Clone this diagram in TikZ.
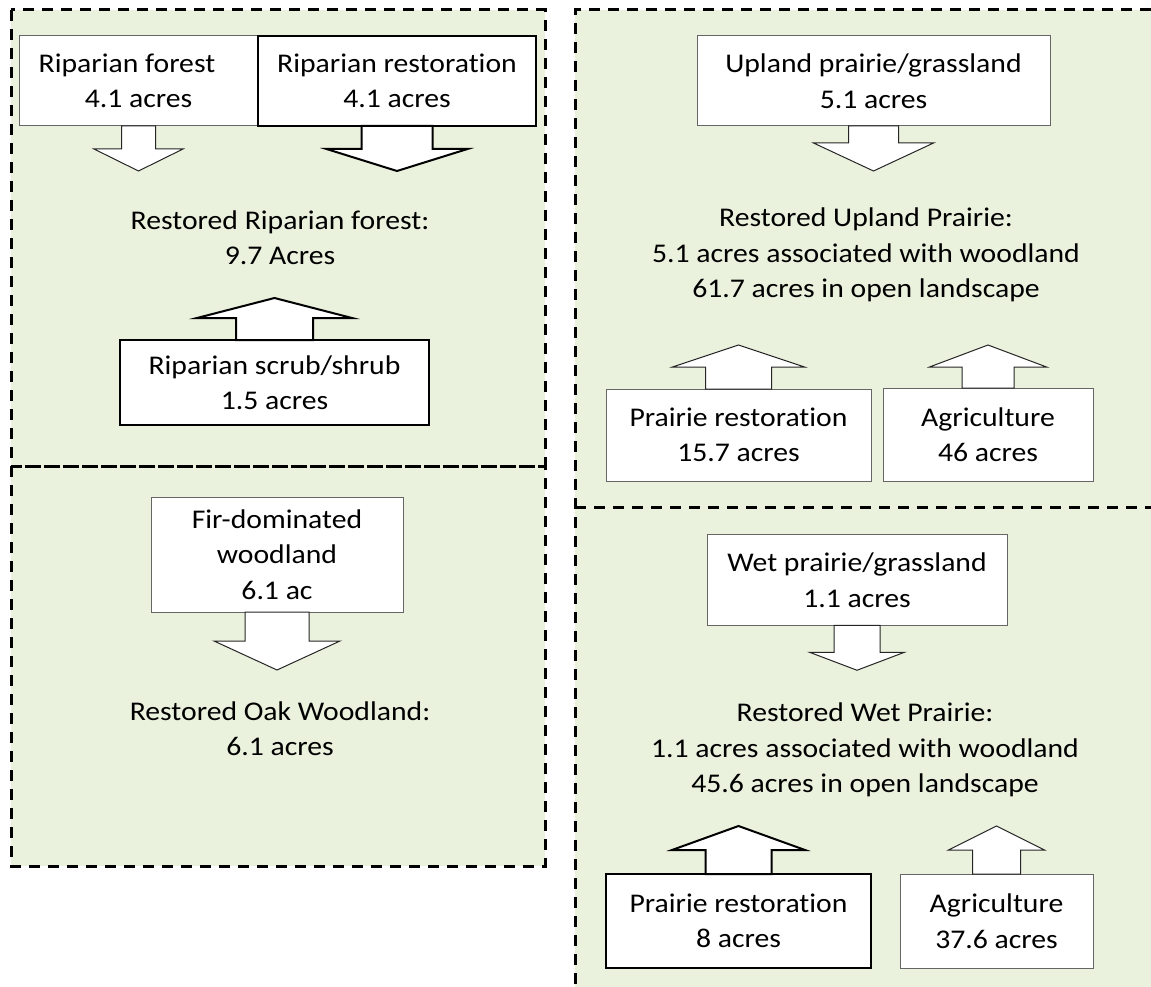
\documentclass[tikz,border=0pt]{standalone}
\usepackage{fontspec}
\setmainfont{Carlito}[Ligatures={NoCommon}, FakeStretch=1.1]
\definecolor{panelgreen}{RGB}{234,241,221}

\begin{document}
\begin{tikzpicture}[x=1pt, y=-1pt,
    every node/.style={font=\fontsize{27}{35.5}\selectfont},
    box/.style={draw=black!60, fill=white, line width=1pt, align=center, inner sep=0pt, outer sep=0pt},
    boldbox/.style={box, draw=black, line width=2pt},
    barrow/.style={draw=black!85, fill=white, line width=1pt, line join=miter},
    boldarrow/.style={barrow, draw=black, line width=2pt},
    panel/.style={draw=black, line width=3pt, dash pattern=on 11pt off 8pt},
    note/.style={align=center, inner sep=0pt}]
    \useasboundingbox (0,0) rectangle (1151,987);

    % panels
    \fill[panelgreen] (11,10) rectangle (545,866);
    \fill[panelgreen] (575,10) rectangle (1151,987);
    \draw[panel] (11,10) rectangle (545,466);
    \draw[panel] (11,466) rectangle (545,866);
    \draw[panel] (1151,10) -- (575,10) -- (575,987);
    \draw[panel] (575,507) -- (1151,507);

    % riparian forest
    \node[box, minimum width=239, minimum height=90] (rf) at (138.5,81) {Riparian forest\hspace*{23pt}\\4.1 acres};
    \node[boldbox, minimum width=278, minimum height=90] (rr) at (397,81) {Riparian restoration\\4.1 acres};
    \node[note] (rrf) at (280,237.5) {Restored Riparian forest:\\9.7 Acres};
    \node[boldbox, minimum width=309, minimum height=85] (rss) at (274.5,382.5) {Riparian scrub/shrub\\1.5 acres};

    \filldraw[barrow] (rf.south) ++(-17,0) -- ++(0,23) -- ++(-27.5,0) -- ++(44.5,22) -- ++(44.5,-22) -- ++(-27.5,0) -- ++(0,-23) -- cycle;
    \filldraw[boldarrow] (rr.south) ++(-35.5,0) -- ++(0,23) -- ++(-35,0) -- ++(70.5,22) -- ++(70.5,-22) -- ++(-35,0) -- ++(0,-23) -- cycle;
    \filldraw[boldarrow] (rss.north) ++(-38.5,0) -- ++(0,-22) -- ++(-39,0) -- ++(77.5,-20) -- ++(77.5,20) -- ++(-39,0) -- ++(0,22) -- cycle;

    % oak woodland
    \node[box, minimum width=252, minimum height=115] (fir) at (277,554.5) {Fir-dominated\\woodland\\6.1 ac};
    \node[note] (oak) at (280,728.5) {Restored Oak Woodland:\\6.1 acres};

    \filldraw[barrow] (fir.south) ++(-32,0) -- ++(0,29) -- ++(-31,0) -- ++(63,29) -- ++(63,-29) -- ++(-31,0) -- ++(0,-29) -- cycle;

    % upland prairie
    \node[box, minimum width=353, minimum height=90] (upl) at (873.5,81) {Upland prairie/grassland\\5.1 acres};
    \node[note] (rup) at (866,255) {Restored Upland Prairie:\\5.1 acres associated with woodland\\61.7 acres in open landscape};
    \node[box, minimum width=265, minimum height=92] (prup) at (738.5,435) {Prairie restoration\\15.7 acres};
    \node[box, minimum width=210, minimum height=93] (agup) at (988,434.5) {Agriculture\\46 acres};

    \filldraw[barrow] (upl.south) ++(-25,0) -- ++(0,17) -- ++(-35,0) -- ++(60,28) -- ++(60,-28) -- ++(-35,0) -- ++(0,-17) -- cycle;
    \filldraw[barrow] (prup.north) ++(-33,0) -- ++(0,-22) -- ++(-33,0) -- ++(66,-22) -- ++(66,22) -- ++(-33,0) -- ++(0,22) -- cycle;
    \filldraw[barrow] (agup.north) ++(-26,0) -- ++(0,-21) -- ++(-32.5,0) -- ++(58.5,-22) -- ++(58.5,22) -- ++(-32.5,0) -- ++(0,21) -- cycle;

    % wet prairie
    \node[box, minimum width=300, minimum height=90.5] (wet) at (857,580) {Wet prairie/grassland\\1.1 acres};
    \node[note] (rwet) at (865,750) {Restored Wet Prairie:\\1.1 acres associated with woodland\\45.6 acres in open landscape};
    \node[boldbox, minimum width=265, minimum height=94] (prwet) at (738.5,921) {Prairie restoration\\8 acres};
    \node[box, minimum width=193, minimum height=94] (agwet) at (996.5,921) {Agriculture\\37.6 acres};

    \filldraw[barrow] (wet.south) ++(-23,0) -- ++(0,27) -- ++(-24.5,0) -- ++(47.5,18) -- ++(47.5,-18) -- ++(-24.5,0) -- ++(0,-27) -- cycle;
    \filldraw[boldarrow] (prwet.north) ++(-33,0) -- ++(0,-24) -- ++(-33.5,0) -- ++(66.5,-24) -- ++(66.5,24) -- ++(-33.5,0) -- ++(0,24) -- cycle;
    \filldraw[barrow] (agwet.north) ++(-24,0) -- ++(0,-24) -- ++(-24,0) -- ++(48,-24) -- ++(48,24) -- ++(-24,0) -- ++(0,24) -- cycle;
\end{tikzpicture}
\end{document}
